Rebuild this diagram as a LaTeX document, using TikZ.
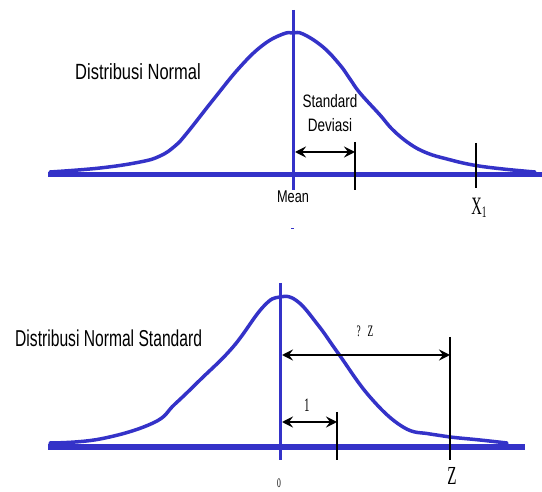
\documentclass[tikz,border=0pt]{standalone}
\usepackage{fontspec}
\usetikzlibrary{positioning,calc,arrows.meta}
\setmainfont{Liberation Serif}
\newfontfamily\labelfont[FakeStretch=0.75]{Liberation Sans}
\newfontfamily\titlefont[FakeStretch=0.68]{Liberation Sans}
\newfontfamily\varfont[FakeStretch=0.58]{Liberation Serif}
\definecolor{normblue}{RGB}{52,50,200}
\tikzset{>={Stealth[length=11pt,width=11pt,inset=4pt]}}

\begin{document}
\begin{tikzpicture}[
    x=1pt, y=-1pt,
    curve/.style={draw=normblue, line width=3.5pt, line join=round, line cap=round},
    axis/.style={draw=normblue, line width=3pt},
    axisline/.style={draw=normblue, line width=5pt},
    sdtick/.style={draw=black, line width=1.8pt},
    dimline/.style={<->, draw=black, line width=1.8pt},
    heading/.style={inner sep=0pt, anchor=base west},
    txt/.style={inner sep=0pt, anchor=base}
]
\useasboundingbox (0,0) rectangle (542,492);

% upper picture
\coordinate (left1) at (48,175);
\coordinate (right1) at (542,175);
\coordinate (top1) at (293,10);
\coordinate (foot1) at (293,190);
\draw[axisline] (left1) -- (right1);
\draw[curve] plot[smooth, tension=0.7] coordinates {(50,172) (100,168) (140,162) (160,156)
    (175,146) (187,133) (213,100) (240,67) (263,45) (283,34) (293,33) (303,34) (323,47)
    (340,65) (350,79) (360,93) (380,115) (393,130) (410,144) (427,153) (447,159)
    (473,165) (503,169) (535,172)};
\draw[axis] (top1) -- (foot1);

\node[heading, font=\labelfont\fontsize{22}{22}\selectfont] (normal) at (75,80) {Distribusi Normal};
\node[txt, font=\labelfont\fontsize{18}{18}\selectfont] (sdA) at (330,108) {Standard};
\node[txt, font=\labelfont\fontsize{18}{18}\selectfont] (sdB) at (330,132) {Deviasi};
\node[txt, font=\labelfont\fontsize{17}{17}\selectfont] (mean) at (293,203) {Mean};
\draw[normblue, line width=1pt] (291,229) -- (294,229);

\coordinate (mu1) at (295,152);
\coordinate (sd1) at (355,152);
\coordinate (sdtop) at (355,142);
\coordinate (sdfoot) at (355,190);
\draw[sdtick] (sdtop) -- (sdfoot);
\draw[dimline] (mu1) -- (sd1);

\coordinate (xtop) at (476,143);
\coordinate (xfoot) at (476,188);
\draw[sdtick] (xtop) -- (xfoot);
\node[txt, font=\varfont\fontsize{25}{25}\selectfont] (xone) at (479,215)
    {X{\fontsize{16}{16}\selectfont\raisebox{-3pt}{1}}};

% lower picture
\coordinate (left2) at (48,447);
\coordinate (right2) at (525,447);
\coordinate (top2) at (280,283);
\coordinate (foot2) at (280,460);
\draw[axisline, line width=6pt] (left2) -- (right2);
\draw[curve] plot[smooth, tension=0.7] coordinates {(50,443) (100,439) (153,423) (175,404)
    (200,380) (233,347) (263,307) (280,297) (297,301) (318,325) (338,353) (370,397)
    (403,427) (430,434) (450,437) (480,440) (507,443)};
\draw[axis] (top2) -- (foot2);

\node[heading, font=\titlefont\fontsize{23}{23}\selectfont] (standard) at (15,347) {Distribusi Normal Standard};

\coordinate (mu2) at (282,355);
\coordinate (zpt) at (450,355);
\coordinate (ztop) at (450,337);
\coordinate (zfoot) at (450,460);
\draw[sdtick] (ztop) -- (zfoot);
\draw[dimline] (mu2) -- (zpt);
\node[txt, font=\varfont\fontsize{16}{16}\selectfont] (qz) at (365,337) {?\hspace{7pt}Z};

\coordinate (mu3) at (282,422);
\coordinate (onept) at (337,422);
\coordinate (onetop) at (337,412);
\coordinate (onefoot) at (337,460);
\draw[sdtick] (onetop) -- (onefoot);
\draw[dimline] (mu3) -- (onept);
\node[txt, font=\varfont\fontsize{19}{19}\selectfont] (one) at (307,412) {1};

\node[txt, font=\varfont\fontsize{26}{26}\selectfont] (zlab) at (452,485) {Z};
\node[inner sep=0pt, anchor=north, font=\varfont\fontsize{13}{13}\selectfont] (zero) at (279,479) {0};
\end{tikzpicture}
\end{document}
